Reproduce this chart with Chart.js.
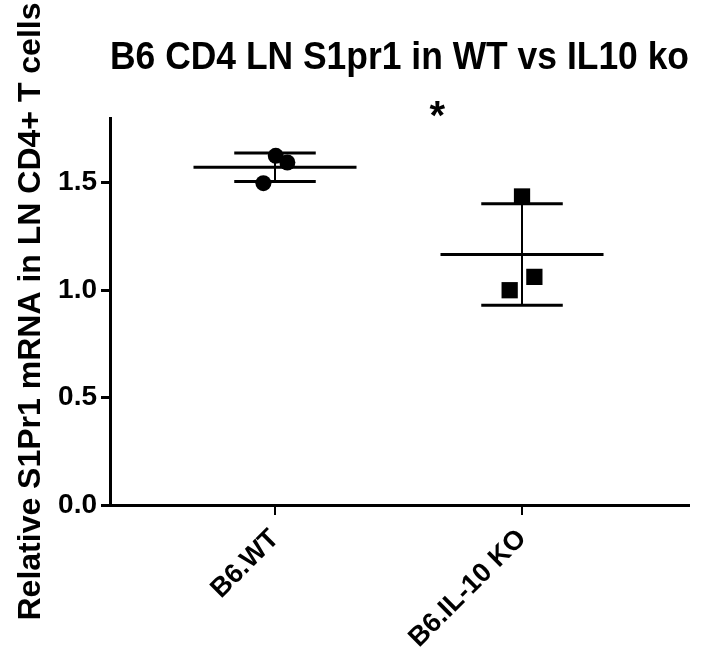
<!DOCTYPE html>
<html>
<head>
<meta charset="utf-8">
<script src="https://cdn.jsdelivr.net/npm/chart.js@4"></script>
<style>
  html,body{margin:0;padding:0;background:#fff;}
  #wrap{width:705px;height:657px;position:relative;}
</style>
</head>
<body>
<div id="wrap"><canvas id="c" width="705" height="657"></canvas></div>
<script>
// groups and the values
const groups = ['B6.WT', 'B6.IL-10 KO'];
const wtValues = [1.624, 1.593, 1.497];
const koValues = [1.435, 1.061, 0.999];
// horizontal scatter of each dot inside its column
const wtJitter = [0.003, 0.05, -0.047];
const koJitter = [0.0, 0.05, -0.05];
const yTicks = [0, 0.5, 1.0, 1.5];
const sigLabel = '*';

const FONT = "'Liberation Sans', Arial, sans-serif";

function mean(a){ return a.reduce((s,v)=>s+v,0)/a.length; }
function sd(a){ const m = mean(a); return Math.sqrt(a.reduce((s,v)=>s+(v-m)*(v-m),0)/(a.length-1)); }

// mean line + sd whiskers for one group
function errorSets(idx, vals){
  const m = mean(vals), s = sd(vals);
  const line = (pts, w) => ({type:'line', data:pts, borderColor:'#000', borderWidth:w, pointRadius:0, fill:false, showLine:true});
  return [
    line([{x:idx-0.33,y:m},{x:idx+0.33,y:m}], 3),
    line([{x:idx-0.165,y:m+s},{x:idx+0.165,y:m+s}], 3),
    line([{x:idx-0.165,y:m-s},{x:idx+0.165,y:m-s}], 3),
    line([{x:idx,y:m-s},{x:idx,y:m+s}], 2)
  ];
}

const starPlugin = {
  id:'star',
  afterDatasetsDraw(chart){
    const {ctx, scales:{x,y}} = chart;
    ctx.save();
    ctx.font = 'bold 40px ' + FONT;
    ctx.fillStyle = '#000';
    ctx.textAlign = 'center';
    ctx.textBaseline = 'middle';
    ctx.fillText(sigLabel, x.getPixelForValue(0.657), y.getPixelForValue(1.80));
    ctx.restore();
  }
};

new Chart(document.getElementById('c'), {
  type:'scatter',
  data:{
    datasets:[
      ...errorSets(0, wtValues),
      ...errorSets(1, koValues),
      {data: wtValues.map((v,i)=>({x:0+wtJitter[i], y:v})), pointStyle:'circle', pointRadius:8, backgroundColor:'#000', borderColor:'#000', borderWidth:0},
      {data: koValues.map((v,i)=>({x:1+koJitter[i], y:v})), pointStyle:'rect', pointRadius:11.5, backgroundColor:'#000', borderColor:'#000', borderWidth:0}
    ]
  },
  options:{
    responsive:false,
    animation:false,
    layout:{padding:{left:0, right:16, top:0, bottom:0}},
    plugins:{
      legend:{display:false},
      tooltip:{enabled:false},
      title:{
        display:true, fullSize:false,
        text:'B6 CD4 LN S1pr1 in WT vs IL10 ko',
        color:'#000',
        font:{family:FONT, size:38, weight:'bold'},
        padding:{top:36, bottom:36.4}
      }
    },
    scales:{
      x:{
        type:'linear', min:-0.668, max:1.676,
        afterBuildTicks(s){ s.ticks = groups.map((g,i)=>({value:i})); },
        afterFit(s){ s.height = 152; },
        ticks:{
          callback:(v)=>groups[v],
          color:'#000', font:{family:FONT, size:27, weight:'bold'},
          minRotation:45, maxRotation:45, padding:8
        },
        grid:{drawOnChartArea:false, color:'#000', lineWidth:2, tickLength:10},
        border:{color:'#000', width:3}
      },
      y:{
        min:0, max:1.8,
        afterBuildTicks(s){ s.ticks = yTicks.map(v=>({value:v})); },
        afterFit(s){ s.width = 110; },
        ticks:{
          callback:(v)=>v.toFixed(1),
          color:'#000', font:{family:FONT, size:28, weight:'bold'}, padding:4
        },
        grid:{drawOnChartArea:false, color:'#000', lineWidth:3, tickLength:9},
        border:{color:'#000', width:3},
        title:{
          display:true,
          text:'Relative S1Pr1 mRNA in LN CD4+ T cells',
          color:'#000',
          font:{family:FONT, size:32, weight:'bold'},
          padding:{top:12, bottom:4}
        }
      }
    }
  },
  plugins:[starPlugin]
});
</script>
</body>
</html>
